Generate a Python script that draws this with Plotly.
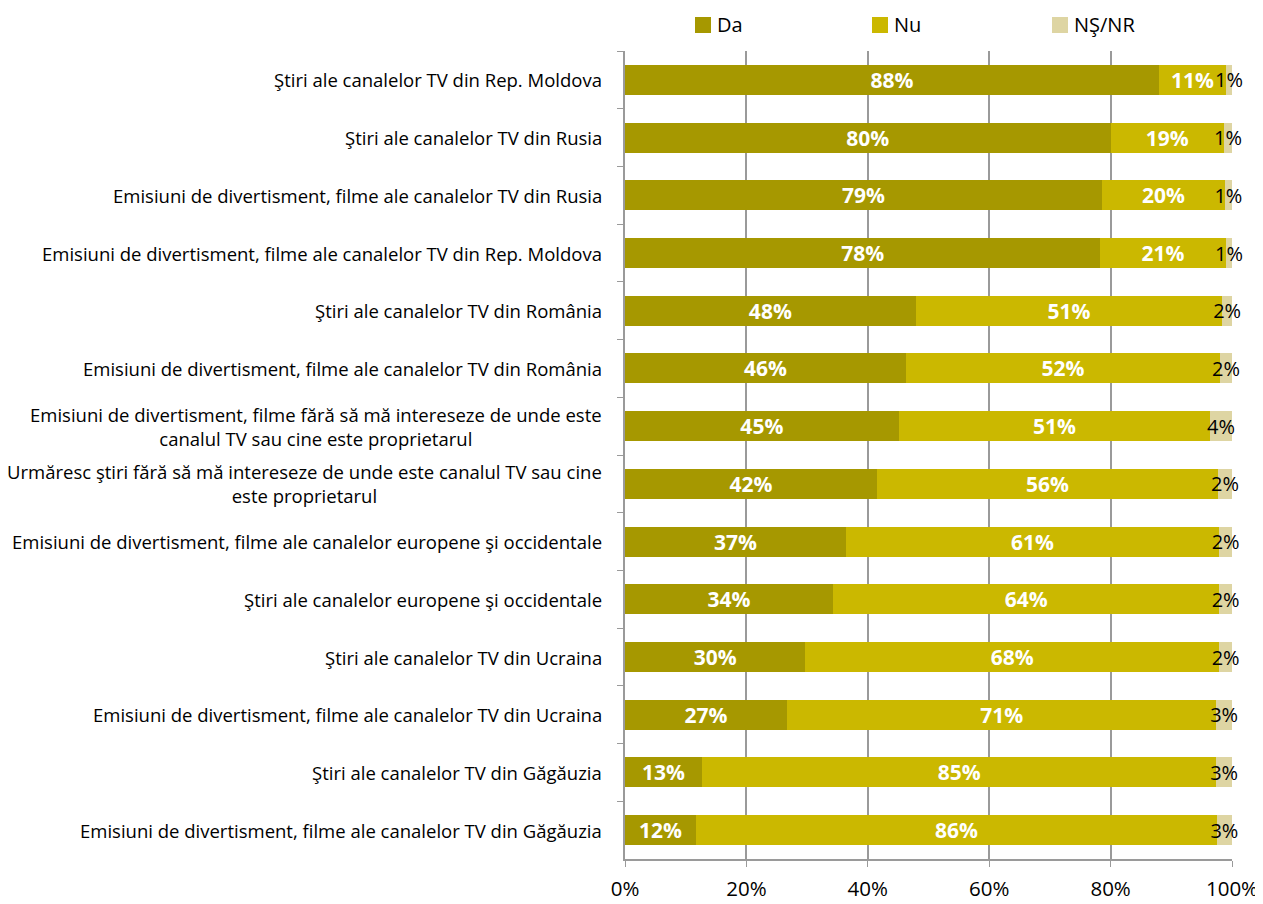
import plotly.graph_objects as go

categories = [
    "Ştiri ale canalelor TV din Rep. Moldova",
    "Ştiri ale canalelor TV din Rusia",
    "Emisiuni de divertisment, filme ale canalelor TV din Rusia",
    "Emisiuni de divertisment, filme ale canalelor TV din Rep. Moldova",
    "Ştiri ale canalelor TV din România",
    "Emisiuni de divertisment, filme ale canalelor TV din România",
    "Emisiuni de divertisment, filme fără să mă intereseze de unde este<br>canalul TV sau cine este proprietarul",
    "Urmăresc ştiri fără să mă intereseze de unde este canalul TV sau cine<br>este proprietarul",
    "Emisiuni de divertisment, filme ale canalelor europene şi occidentale",
    "Ştiri ale canalelor europene şi occidentale",
    "Ştiri ale canalelor TV din Ucraina",
    "Emisiuni de divertisment, filme ale canalelor TV din Ucraina",
    "Ştiri ale canalelor TV din Găgăuzia",
    "Emisiuni de divertisment, filme ale canalelor TV din Găgăuzia",
]

da_values = [88.0, 80.0, 78.6, 78.3, 47.9, 46.3, 45.1, 41.5, 36.4, 34.3, 29.7, 26.7, 12.7, 11.7]
nu_values = [11.0, 18.7, 20.2, 20.7, 50.5, 51.7, 51.3, 56.2, 61.5, 63.6, 68.2, 70.7, 84.7, 85.8]
ns_values = [1.0, 1.3, 1.2, 1.0, 1.6, 2.0, 3.6, 2.3, 2.1, 2.1, 2.1, 2.6, 2.6, 2.5]

da_labels = ["88%", "80%", "79%", "78%", "48%", "46%", "45%", "42%", "37%", "34%", "30%", "27%", "13%", "12%"]
nu_labels = ["11%", "19%", "20%", "21%", "51%", "52%", "51%", "56%", "61%", "64%", "68%", "71%", "85%", "86%"]
ns_labels = ["1%", "1%", "1%", "1%", "2%", "2%", "4%", "2%", "2%", "2%", "2%", "3%", "3%", "3%"]

x_ticks = [0, 20, 40, 60, 80, 100]
x_tick_labels = ["0%", "20%", "40%", "60%", "80%", "100%"]

FONT = "Open Sans, Noto Sans, sans-serif"

# figure geometry (page has an 8px body margin)
W, H = 1255, 896
ML, MR, MT, MB = 617, 31, 43, 45
PW, PH = W - ML - MR, H - MT - MB


def px_x(px):
    return (px - ML) / PW


def px_y(py):
    return 1 - (py - MT) / PH


fig = go.Figure()
series = [
    ("Da", da_values, da_labels, "#A69800", "white", 687),
    ("Nu", nu_values, nu_labels, "#CBB800", "white", 864),
    ("NŞ/NR", ns_values, ns_labels, "#DED5A3", "black", 1044),
]
for name, vals, labels, color, tcolor, lgx in series:
    fig.add_trace(go.Bar(
        name=name, y=categories, x=vals, orientation="h",
        marker=dict(color=color, line=dict(width=0)),
        text=labels, textposition="inside", insidetextanchor="middle",
        constraintext="none", textangle=0, cliponaxis=False,
        textfont=dict(family=FONT, size=21 if tcolor == "white" else 20, color=tcolor,
                      weight="bold" if tcolor == "white" else "normal"),
        hoverinfo="skip", showlegend=False,
    ))
    # legend entry
    fig.add_shape(type="rect", xref="paper", yref="paper",
                  x0=px_x(lgx), x1=px_x(lgx + 16), y0=px_y(25), y1=px_y(9),
                  fillcolor=color, line=dict(width=0))
    fig.add_annotation(x=px_x(lgx + 20), y=px_y(17), xref="paper", yref="paper",
                       text=name, showarrow=False, xanchor="left", yanchor="middle",
                       font=dict(family=FONT, size=20, color="black"))

for cat in categories:
    fig.add_annotation(
        x=px_x(596), xref="paper", y=cat, yref="y", text=cat,
        xanchor="right", yanchor="middle", align="center", showarrow=False,
        font=dict(family=FONT, size=18.5, color="black"),
    )

fig.update_layout(
    barmode="stack", bargap=0.48,
    width=W, height=H,
    margin=dict(l=ML, r=MR, t=MT, b=MB, autoexpand=False),
    plot_bgcolor="white", paper_bgcolor="white",
    font=dict(family=FONT, color="black"),
    showlegend=False,
    xaxis=dict(range=[0, 100], tickvals=x_ticks, ticktext=x_tick_labels,
               showgrid=True, gridcolor="#9A9A9A", gridwidth=1.5,
               showline=True, linecolor="#9A9A9A", linewidth=1.5,
               ticks="outside", ticklen=6, tickcolor="#9A9A9A",
               tickfont=dict(family=FONT, size=20.5), zeroline=False,
               ticklabelstandoff=5,
               fixedrange=True, automargin=False),
    yaxis=dict(autorange="reversed", showticklabels=False, type="category",
               showline=True, linecolor="#9A9A9A", linewidth=1.5,
               ticks="outside", tickson="boundaries", ticklen=6, tickcolor="#9A9A9A",
               showgrid=False, fixedrange=True, automargin=False),
)

fig.write_html("out.html")
